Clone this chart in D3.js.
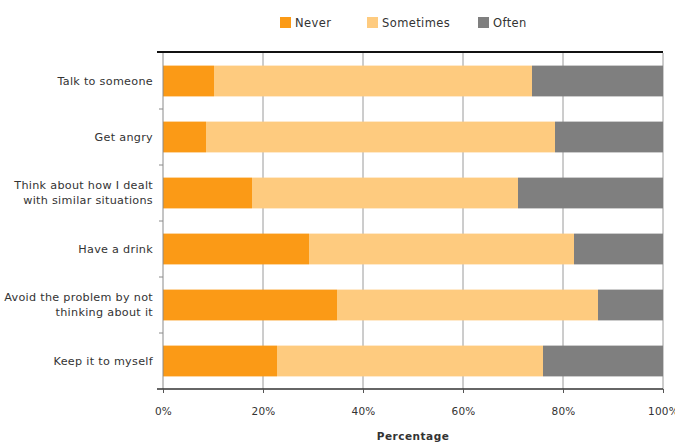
<!DOCTYPE html>
<html>
<head>
<meta charset="utf-8">
<script src="https://cdn.jsdelivr.net/npm/d3@7"></script>
<style>
  html, body { margin: 0; padding: 0; background: #fff; }
  svg { display: block; }
  text { font-family: "DejaVu Sans", sans-serif; fill: #333; }
</style>
</head>
<body>
<svg id="chart" width="675" height="444"></svg>
<script>
// Coping strategies, share of respondents (%)
const categories = [
  "Talk to someone",
  "Get angry",
  "Think about how I dealt|with similar situations",
  "Have a drink",
  "Avoid the problem by not|thinking about it",
  "Keep it to myself"
];
const never     = [10.2,  8.6, 17.8, 29.2, 34.8, 22.8];
const sometimes = [63.6, 69.8, 53.2, 53.0, 52.2, 53.2];
const often     = [26.2, 21.6, 29.0, 17.8, 13.0, 24.0];
const seriesNames = ["Never", "Sometimes", "Often"];
const seriesColors = ["#FB9A16", "#FECB7F", "#7F7F7F"];
const xTicks = [0, 20, 40, 60, 80, 100];
const xTitle = "Percentage";

const svg = d3.select("#chart");
const margin = { left: 163, right: 12, top: 53, bottom: 55 };
const W = 675, H = 444;

const x = d3.scaleLinear().domain([0, 100]).range([margin.left, W - margin.right]);
const y = d3.scaleBand().domain(categories).range([margin.top, H - margin.bottom]).paddingInner(0.45).paddingOuter(0.225);

const rows = categories.map((c, i) => ({ cat: c, Never: never[i], Sometimes: sometimes[i], Often: often[i] }));
const stacked = d3.stack().keys(seriesNames)(rows);

// vertical gridlines
svg.append("g")
  .selectAll("line")
  .data(xTicks.slice(1))
  .join("line")
  .attr("x1", d => x(d)).attr("x2", d => x(d))
  .attr("y1", margin.top).attr("y2", H - margin.bottom)
  .attr("stroke", "#9a9a9a").attr("stroke-width", 1);

// stacked bars
svg.append("g")
  .selectAll("g")
  .data(stacked)
  .join("g")
  .attr("fill", (d, i) => seriesColors[i])
  .selectAll("rect")
  .data(d => d)
  .join("rect")
  .attr("x", d => x(d[0]))
  .attr("width", d => x(d[1]) - x(d[0]))
  .attr("y", d => y(d.data.cat))
  .attr("height", y.bandwidth());

// left category axis with ticks at band boundaries
const yAxis = svg.append("g");
yAxis.append("line")
  .attr("x1", margin.left).attr("x2", margin.left)
  .attr("y1", margin.top).attr("y2", H - margin.bottom)
  .attr("stroke", "#8a8a8a").attr("stroke-width", 1);
const step = y.step();
const bounds = d3.range(1, categories.length).map(i => y(categories[i]) - step * y.paddingInner() / 2);
yAxis.selectAll("line.tk")
  .data(bounds)
  .join("line")
  .attr("class", "tk")
  .attr("x1", margin.left - 4).attr("x2", margin.left)
  .attr("y1", d => d).attr("y2", d => d)
  .attr("stroke", "#8a8a8a");

// category labels (right aligned, may wrap)
yAxis.selectAll("text.lbl")
  .data(categories)
  .join("text")
  .attr("class", "lbl")
  .attr("text-anchor", "end")
  .attr("font-size", 11.2)
  .attr("letter-spacing", 0.3)
  .each(function(d) {
    const parts = d.split("|");
    const cy = y(d) + y.bandwidth() / 2;
    const lh = 15;
    const t = d3.select(this);
    parts.forEach((p, k) => {
      t.append("tspan")
        .attr("x", margin.left - 10)
        .attr("y", cy + (k - (parts.length - 1) / 2) * lh)
        .attr("dy", "0.35em")
        .text(p);
    });
  });

// top and bottom frame lines
svg.append("line")
  .attr("x1", margin.left - 6).attr("x2", W - margin.right)
  .attr("y1", margin.top - 1).attr("y2", margin.top - 1)
  .attr("stroke", "#111").attr("stroke-width", 2);
svg.append("line")
  .attr("x1", margin.left - 6).attr("x2", W - margin.right)
  .attr("y1", H - margin.bottom).attr("y2", H - margin.bottom)
  .attr("stroke", "#333").attr("stroke-width", 1.5);

// bottom x axis
const xAxis = d3.axisBottom(x).tickValues(xTicks).tickFormat(d => d + "%").tickSize(4).tickPadding(15);
const gx = svg.append("g")
  .attr("transform", `translate(0,${H - margin.bottom})`)
  .call(xAxis);
gx.select(".domain").remove();
gx.selectAll(".tick line").attr("stroke", "#555");
gx.selectAll(".tick text")
  .attr("font-size", 10.5)
  .style("font-family", '"DejaVu Sans", sans-serif')
  .attr("letter-spacing", 0.2)
  .attr("fill", "#333");

svg.append("text")
  .attr("x", x(50))
  .attr("y", 440)
  .attr("text-anchor", "middle")
  .attr("font-size", 10.5)
  .attr("font-weight", "bold")
  .attr("letter-spacing", 0.5)
  .text(xTitle);

// legend
const legendX = [280, 367, 478];
const lg = svg.append("g");
seriesNames.forEach((s, i) => {
  lg.append("rect")
    .attr("x", legendX[i]).attr("y", 17)
    .attr("width", 11).attr("height", 11)
    .attr("fill", seriesColors[i]);
  lg.append("text")
    .attr("x", legendX[i] + 15).attr("y", 22.5)
    .attr("dy", "0.35em")
    .attr("font-size", 11.5)
    .attr("letter-spacing", 0.4)
    .text(s);
});
</script>
</body>
</html>
